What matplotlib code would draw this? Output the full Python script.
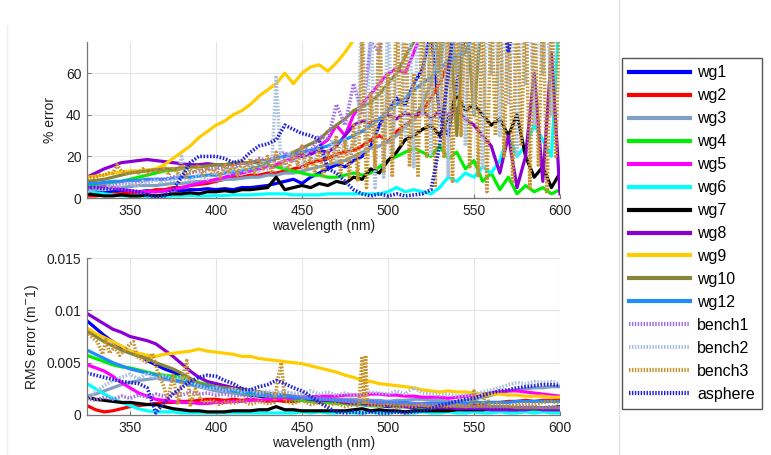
import matplotlib
matplotlib.use("Agg")
import matplotlib.pyplot as plt
from matplotlib.lines import Line2D
import numpy as np

plt.rcParams['font.family'] = ['Liberation Sans', 'DejaVu Sans']

# ---------------------------------------------------------------- data
# common wavelength grid (nm) and a finer one for the noisiest bench series
wavelength = np.arange(325, 601, 5)
wavelength_fine = np.arange(325, 600.1, 2.5)

names = ['wg1', 'wg2', 'wg3', 'wg4', 'wg5', 'wg6', 'wg7', 'wg8', 'wg9',
         'wg10', 'wg12', 'bench1', 'bench2', 'bench3', 'asphere']
colors = ['#0000ff', '#ff0000', '#7f9fc3', '#00ee00', '#ff00ff', '#00ffff',
          '#000000', '#8a00d4', '#ffcc00', '#86853a', '#1e8cff',
          '#a070e8', '#a8c0dc', '#c8922e', '#2222dd']
dotted = [False] * 11 + [True] * 4

# percentage error per instrument (values above 75 run off the top)
pct_wg1 = [3, 3, 2.5, 3, 3.5, 3, 3, 3.5,
           3, 3.5, 4, 3.5, 4, 4, 4.5, 4,
           4.5, 4, 5, 5, 5.5, 6, 7, 8,
           9, 7, 10, 12, 14, 16, 15, 18,
           20, 25, 35, 42, 48, 45, 55, 62,
           80, 40, 30, 55, 80, 90, 95, 95,
           95, 80, 95, 95, 90, 95, 95, 95]
pct_wg2 = [1, 1, 1.5, 2, 2, 2.5, 3, 3,
           4, 4, 5, 5, 6, 6.5, 7, 8,
           9, 10, 10, 11, 11, 12, 12, 13,
           14, 15, 17, 18, 19, 21, 22, 23,
           25, 28, 30, 27, 32, 35, 38, 42,
           48, 55, 65, 80, 95, 95, 95, 95,
           95, 95, 95, 95, 95, 95, 95, 95]
pct_wg3 = [4, 4, 4.5, 5, 5, 5.5, 6, 6,
           6, 6.5, 7, 7, 7.5, 8, 8, 8.5,
           9, 9, 9.5, 10, 10, 11, 11, 12,
           12, 13, 14, 15, 16, 17, 18, 20,
           22, 24, 25, 27, 30, 34, 38, 45,
           55, 70, 95, 60, 95, 95, 80, 95,
           95, 95, 95, 95, 95, 95, 95, 95]
pct_wg4 = [6, 6.5, 7, 7.5, 8, 9, 10, 11,
           12, 13, 13.5, 14, 15, 15, 15.5, 16,
           16, 16.5, 17, 17, 17, 16, 15, 14,
           13, 12, 11, 11, 10, 10, 11, 12,
           11, 12, 15, 18, 20, 22, 24, 22,
           20, 25, 19, 22, 14, 18, 8, 12,
           4, 10, 2, 6, 3, 5, 2, 4]
pct_wg5 = [5, 5, 5.5, 5, 4, 3.5, 3, 3,
           3, 3.5, 4, 5, 6, 7, 8, 9,
           10, 11, 12, 13, 14, 15, 16, 18,
           19, 21, 22, 25, 28, 35, 30, 40,
           45, 50, 55, 60, 62, 60, 70, 80,
           95, 95, 95, 95, 95, 95, 95, 95,
           95, 95, 95, 95, 95, 95, 95, 95]
pct_wg6 = [3, 2.5, 2, 1.5, 1, 1, 1, 0.8,
           0.8, 0.8, 1, 1, 1.2, 1, 1, 1.2,
           1.2, 1.5, 1.5, 1.5, 1.8, 2, 2, 2,
           1.5, 1.5, 1.5, 1.5, 2, 2, 2, 2,
           2, 2, 2, 3, 5, 3, 4, 3,
           2, 5, 10, 8, 12, 10, 15, 12,
           18, 30, 20, 25, 35, 28, 20, 95]
pct_wg7 = [2, 1.5, 1, 1, 1.5, 1, 1, 1.5,
           1, 1.5, 2, 2, 2.5, 2, 3, 3,
           3.5, 3, 4, 4, 4.5, 5, 10, 4,
           5, 6, 5, 7, 6, 8, 7, 10,
           9, 14, 12, 18, 22, 28, 30, 33,
           35, 30, 38, 50, 42, 45, 40, 35,
           38, 30, 40, 20, 10, 15, 5, 12]
pct_wg8 = [10, 12, 14, 15.5, 17, 17.5, 18, 18.5,
           18, 17.5, 17, 16.5, 16, 16, 16.5, 16,
           16, 16.5, 17, 17, 17.5, 18, 19, 20,
           21, 20, 21, 23, 22, 25, 30, 35,
           37, 36, 38, 40, 38, 41, 39, 42,
           38, 42, 40, 43, 38, 35, 30, 25,
           12, 30, 5, 20, 60, 8, 70, 2]
pct_wg9 = [10, 10.5, 11, 12, 12.5, 13, 13, 13.5,
           14, 16, 19, 22, 25, 29, 32, 35,
           37, 40, 42, 45, 49, 52, 55, 60,
           55, 60, 63, 64, 61, 65, 70, 76,
           95, 95, 95, 95, 95, 95, 95, 95,
           95, 95, 95, 95, 95, 95, 95, 95,
           95, 95, 95, 95, 95, 95, 95, 95]
pct_wg10 = [8, 8.5, 9, 10, 11, 12, 12.5, 13,
            13.5, 14, 14, 14.5, 15, 15, 15.5, 16,
            16, 16.5, 17, 17, 18, 18, 19, 20,
            22, 24, 26, 28, 32, 35, 38, 42,
            44, 46, 50, 55, 60, 68, 75, 90,
            95, 60, 95, 30, 95, 40, 95, 95,
            95, 95, 95, 95, 95, 95, 95, 95]
pct_wg12 = [7, 7, 7.5, 8, 8, 8.5, 8.5, 9,
            9, 9, 9.5, 10, 10, 10.5, 11, 11,
            12, 12.5, 13, 14, 15, 17, 19, 20,
            21, 22, 23, 24, 25, 27, 28, 30,
            32, 35, 38, 42, 45, 48, 52, 55,
            58, 62, 66, 68, 70, 80, 95, 95,
            95, 95, 95, 95, 95, 95, 95, 95]
pct_bench1 = [4, 5, 6, 6, 7, 7, 8, 8,
              9, 9, 10, 11, 12, 13, 14, 14,
              15, 14, 17, 16, 19, 18, 20, 22,
              18, 25, 22, 30, 28, 45, 35, 55,
              40, 75, 70, 95, 80, 95, 90, 95,
              95, 95, 95, 95, 95, 95, 95, 95,
              95, 95, 95, 95, 95, 95, 95, 95]
# bench2 and bench3 on the 2.5 nm grid
pct_bench2 = [3, 4, 5, 4, 4, 6, 5, 5, 6, 7,
              7, 6, 6, 8, 7, 8, 9, 7, 8, 9,
              8, 10, 20, 9, 8, 10, 11, 10, 9, 12,
              12, 10, 14, 11, 15, 11, 15, 12, 16, 13,
              12, 18, 14, 16, 58, 20, 14, 22, 20, 16,
              15, 22, 19, 18, 25, 20, 22, 28, 18, 24,
              28, 22, 26, 30, 95, 20, 95, 5, 80, 10,
              95, 20, 60, 95, 30, 95, 15, 95, 40, 95,
              20, 95, 35, 95, 10, 95, 50, 95, 25, 95,
              40, 95, 15, 95, 60, 95, 30, 95, 45, 95,
              20, 95, 55, 95, 35, 95, 60, 95, 40, 95,
              95]
pct_bench3 = [9, 10, 10, 11, 11, 12, 12, 16, 13, 12,
              12, 13, 12, 14, 11, 13, 14, 12, 15, 11,
              15, 12, 16, 10, 14, 12, 16, 11, 15, 12,
              14, 10, 16, 12, 17, 11, 18, 13, 19, 12,
              18, 14, 20, 12, 22, 15, 18, 14, 22, 16,
              25, 14, 20, 12, 24, 10, 22, 16, 30, 12,
              28, 10, 35, 8, 75, 5, 50, 15, 95, 12,
              60, 10, 95, 25, 95, 15, 60, 10, 95, 20,
              95, 5, 95, 20, 95, 8, 95, 30, 95, 15,
              95, 10, 95, 3, 95, 30, 95, 20, 95, 8,
              95, 25, 95, 5, 95, 15, 95, 2, 95, 20,
              95]
pct_asphere = [5, 5, 4.5, 4, 4, 3.5, 3, 1.5,
               0.5, 1, 4, 10, 17, 20, 20, 20,
               19, 17, 18, 22, 25, 26, 28, 35,
               33, 31, 30, 28, 14, 12, 8, 4,
               2, 1, 2, 1, 2, 1, 1.5, 2,
               4, 25, 60, 95, 95, 95, 80, 95,
               95, 70, 95, 95, 95, 95, 95, 95]

# RMS error per instrument, in units of 1e-3 m^-1
rms_wg1 = [9.0, 8.3, 7.6, 7.0, 6.5, 6.1, 5.8, 5.2,
           4.8, 4.4, 4.1, 3.7, 3.2, 2.9, 2.7, 2.5,
           2.3, 2.2, 2.0, 1.9, 1.8, 1.7, 1.6, 1.6,
           1.5, 1.4, 1.4, 1.3, 1.2, 1.2, 1.1, 1.0,
           1.0, 0.9, 0.9, 0.8, 0.8, 0.8, 0.7, 0.7,
           0.7, 0.6, 0.6, 0.6, 0.5, 0.5, 0.5, 0.5,
           0.5, 0.4, 0.4, 0.4, 0.4, 0.4, 0.4, 0.4]
rms_wg2 = [0.9, 0.5, 0.3, 0.4, 0.6, 0.8, 0.9, 1.0,
           1.1, 1.2, 1.2, 1.3, 1.3, 1.4, 1.5, 1.5,
           1.4, 1.5, 1.4, 1.5, 1.4, 1.3, 1.4, 1.3,
           1.3, 1.4, 1.3, 1.2, 1.3, 1.2, 1.2, 1.1,
           1.2, 1.1, 1.1, 1.0, 1.1, 1.0, 1.0, 1.0,
           0.9, 1.0, 0.9, 1.0, 1.0, 1.1, 1.1, 1.2,
           1.2, 1.3, 1.3, 1.4, 1.3, 1.4, 1.4, 1.5]
rms_wg3 = [1.8, 2.0, 2.3, 2.6, 2.9, 3.1, 3.3, 3.4,
           3.5, 3.4, 3.3, 3.1, 2.9, 2.7, 2.5, 2.3,
           2.2, 2.1, 2.0, 2.0, 1.9, 1.9, 1.8, 1.8,
           1.7, 1.7, 1.6, 1.6, 1.6, 1.5, 1.5, 1.5,
           1.4, 1.4, 1.4, 1.3, 1.4, 1.4, 1.5, 1.5,
           1.4, 1.4, 1.3, 1.3, 1.4, 1.5, 1.7, 1.9,
           2.1, 2.3, 2.4, 2.5, 2.6, 2.6, 2.7, 2.7]
rms_wg4 = [5.7, 5.4, 5.1, 4.8, 4.6, 4.5, 4.3, 4.1,
           3.9, 3.8, 3.7, 3.6, 3.4, 3.1, 2.9, 2.7,
           2.5, 2.3, 2.1, 2.0, 1.9, 1.8, 1.7, 1.6,
           1.5, 1.4, 1.3, 1.3, 1.2, 1.1, 1.1, 1.0,
           1.0, 0.9, 0.9, 0.9, 0.8, 0.8, 0.8, 0.7,
           0.7, 0.7, 0.6, 0.6, 0.6, 0.6, 0.5, 0.5,
           0.5, 0.5, 0.5, 0.5, 0.4, 0.4, 0.4, 0.4]
rms_wg5 = [4.8, 4.5, 4.2, 3.7, 3.1, 2.6, 2.1, 1.8,
           1.5, 1.4, 1.3, 1.2, 1.2, 1.1, 1.1, 1.2,
           1.2, 1.3, 1.3, 1.4, 1.4, 1.5, 1.5, 1.6,
           1.6, 1.7, 1.7, 1.8, 1.8, 1.8, 1.9, 1.9,
           1.9, 2.0, 2.0, 1.9, 1.9, 1.8, 1.8, 1.7,
           1.7, 1.7, 1.6, 1.7, 1.8, 1.9, 2.0, 2.1,
           2.2, 2.3, 2.3, 2.2, 2.1, 2.0, 1.9, 1.8]
rms_wg6 = [3.0, 2.5, 2.0, 1.6, 1.2, 0.9, 0.6, 0.4,
           0.3, 0.3, 0.3, 0.2, 0.2, 0.2, 0.2, 0.2,
           0.2, 0.2, 0.2, 0.2, 0.2, 0.2, 0.2, 0.2,
           0.2, 0.3, 0.2, 0.3, 0.2, 0.2, 0.3, 0.2,
           0.2, 0.3, 0.2, 0.2, 0.3, 0.2, 0.2, 0.3,
           0.2, 0.2, 0.3, 0.2, 0.2, 0.3, 0.2, 0.2,
           0.3, 0.2, 0.2, 0.3, 0.2, 0.3, 0.2, 0.2]
rms_wg7 = [1.7, 1.5, 1.4, 1.3, 1.2, 1.2, 1.1, 1.0,
           1.0, 0.8, 0.6, 0.5, 0.4, 0.4, 0.3, 0.3,
           0.3, 0.4, 0.4, 0.4, 0.5, 0.5, 0.8, 0.5,
           0.5, 0.4, 0.4, 0.4, 0.4, 0.4, 0.4, 0.5,
           0.6, 0.4, 0.5, 0.4, 0.4, 0.3, 0.4, 0.4,
           0.4, 0.4, 0.4, 0.5, 0.5, 0.5, 0.5, 0.6,
           0.6, 0.6, 0.7, 0.7, 0.7, 0.7, 0.7, 0.8]
rms_wg8 = [9.7, 9.2, 8.7, 8.2, 7.9, 7.5, 7.3, 7.1,
           6.8, 6.2, 5.6, 4.9, 4.2, 3.6, 3.2, 3.0,
           2.8, 2.6, 2.5, 2.3, 2.2, 2.0, 1.9, 1.8,
           1.7, 1.6, 1.5, 1.4, 1.4, 1.3, 1.2, 1.1,
           1.1, 1.0, 1.0, 0.9, 0.9, 0.8, 0.8, 0.8,
           0.7, 0.7, 0.7, 0.6, 0.6, 0.6, 0.6, 0.5,
           0.5, 0.5, 0.5, 0.5, 0.6, 0.5, 0.5, 0.5]
rms_wg9 = [8.3, 7.8, 7.4, 7.0, 6.6, 6.1, 5.9, 5.7,
           5.6, 5.8, 5.9, 6.0, 6.1, 6.3, 6.1, 6.0,
           5.9, 5.8, 5.6, 5.6, 5.4, 5.3, 5.2, 5.1,
           5.0, 4.9, 4.7, 4.5, 4.3, 4.1, 3.8, 3.6,
           3.3, 3.2, 3.0, 2.9, 2.8, 2.7, 2.6, 2.4,
           2.3, 2.2, 2.3, 2.2, 2.2, 2.1, 2.0, 2.0,
           2.0, 1.9, 1.9, 1.8, 1.8, 1.8, 1.7, 1.7]
rms_wg10 = [8.0, 7.5, 7.0, 6.6, 6.2, 5.9, 5.6, 5.4,
            5.0, 4.7, 4.4, 4.0, 3.5, 3.0, 2.8, 2.7,
            2.6, 2.5, 2.4, 2.3, 2.2, 2.1, 2.0, 1.9,
            1.8, 1.7, 1.6, 1.5, 1.5, 1.4, 1.3, 1.3,
            1.2, 1.2, 1.1, 1.1, 1.0, 1.0, 1.0, 0.9,
            0.9, 0.9, 0.9, 0.8, 0.8, 0.8, 0.8, 0.8,
            0.8, 0.8, 0.7, 0.7, 0.7, 0.7, 0.7, 0.7]
rms_wg12 = [6.2, 5.8, 5.4, 5.0, 4.7, 4.4, 4.2, 4.0,
            3.8, 3.6, 3.4, 3.2, 3.0, 2.8, 2.7, 2.6,
            2.4, 2.3, 2.2, 2.1, 2.0, 1.9, 1.8, 1.8,
            1.7, 1.6, 1.6, 1.5, 1.5, 1.4, 1.4, 1.3,
            1.3, 1.3, 1.2, 1.2, 1.2, 1.2, 1.1, 1.1,
            1.1, 1.1, 1.1, 1.1, 1.1, 1.2, 1.2, 1.2,
            1.2, 1.2, 1.3, 1.3, 1.3, 1.3, 1.3, 1.3]
rms_bench1 = [1.6, 1.4, 1.7, 1.5, 1.8, 1.6, 1.9, 1.7,
              2.0, 1.8, 2.1, 1.9, 2.2, 2.0, 2.1, 1.9,
              2.0, 1.8, 1.9, 1.7, 2.0, 1.8, 2.1, 2.2,
              2.0, 1.8, 1.7, 1.6, 1.5, 1.5, 1.4, 1.3,
              1.4, 1.2, 1.3, 1.1, 1.2, 1.0, 1.1, 1.0,
              1.0, 0.9, 1.0, 0.9, 0.9, 0.8, 0.9, 0.8,
              0.8, 0.8, 0.9, 0.8, 0.8, 0.7, 0.8, 0.7]
rms_bench2 = [1.5, 2.2, 2.8, 3.3, 3.6, 3.9, 3.4, 4.0,
              3.5, 3.8, 3.4, 3.7, 3.2, 2.8, 2.5, 2.6,
              2.3, 2.5, 2.2, 2.4, 2.1, 2.3, 2.0, 2.2,
              2.1, 2.0, 2.3, 2.0, 2.2, 1.9, 2.1, 1.9,
              2.0, 2.2, 2.1, 2.0, 2.3, 2.0, 2.6, 2.1,
              2.0, 1.9, 2.0, 1.8, 1.9, 2.0, 2.2, 2.4,
              2.6, 2.9, 3.1, 3.0, 3.2, 3.1, 3.2, 3.0]
rms_asphere = [4.0, 3.8, 3.6, 3.4, 3.2, 3.1, 3.0, 2.6,
               0.2, 1.2, 2.0, 2.6, 3.2, 3.6, 3.8, 3.7,
               3.3, 3.0, 2.5, 2.4, 2.7, 2.9, 3.3, 3.0,
               2.6, 2.3, 1.8, 1.2, 0.7, 0.3, 0.2, 0.3,
               0.2, 0.3, 0.2, 0.2, 0.3, 0.2, 0.3, 0.4,
               0.6, 0.9, 1.1, 1.3, 1.5, 1.6, 1.9, 2.1,
               2.3, 2.4, 2.6, 2.7, 2.8, 2.9, 2.9, 2.8]
# bench3 is sampled more finely to keep its narrow spikes
bench3_rms_points = [
    (325, 8.0), (328, 7.4), (331, 7.0), (334, 5.8), (336, 7.2), (338, 5.9),
    (341, 6.5), (344, 5.7), (347, 6.2), (350, 6.8), (352, 7.0), (354, 5.6),
    (357, 5.3), (360, 5.0), (363, 5.9), (366, 4.2), (369, 3.0), (372, 1.5),
    (375, 3.8), (378, 1.0), (381, 4.0), (383, 5.2), (385, 0.8), (388, 2.5),
    (391, 1.5), (394, 1.2), (398, 1.4), (402, 1.0), (406, 1.3), (410, 1.1),
    (415, 1.4), (420, 1.0), (425, 1.3), (430, 1.1), (434, 1.2), (436, 3.5),
    (438, 5.0), (440, 1.3), (445, 1.1), (450, 1.4), (455, 1.0), (460, 1.2),
    (465, 0.9), (470, 1.1), (475, 0.8), (480, 1.0), (483, 0.9), (485, 5.6),
    (486, 1.0), (487, 5.7), (488, 1.2), (489, 0.9), (491, 1.0), (495, 0.8),
    (500, 1.0), (505, 0.7), (510, 0.9), (515, 0.8), (520, 1.0), (525, 0.7),
    (530, 0.9), (535, 0.8), (540, 1.0), (545, 0.8), (548, 0.9), (550, 2.3),
    (552, 0.9), (555, 1.0), (557, 2.2), (559, 0.9), (563, 1.1), (570, 0.9),
    (575, 1.0), (580, 1.1), (585, 1.0), (590, 1.2), (595, 1.3), (600, 1.1)]

pct_series = [(wavelength, pct_wg1), (wavelength, pct_wg2), (wavelength, pct_wg3),
              (wavelength, pct_wg4), (wavelength, pct_wg5), (wavelength, pct_wg6),
              (wavelength, pct_wg7), (wavelength, pct_wg8), (wavelength, pct_wg9),
              (wavelength, pct_wg10), (wavelength, pct_wg12),
              (wavelength, pct_bench1), (wavelength_fine, pct_bench2),
              (wavelength_fine, pct_bench3), (wavelength, pct_asphere)]
bench3_wl = [p[0] for p in bench3_rms_points]
bench3_val = [p[1] for p in bench3_rms_points]
rms_series = [(wavelength, rms_wg1), (wavelength, rms_wg2), (wavelength, rms_wg3),
              (wavelength, rms_wg4), (wavelength, rms_wg5), (wavelength, rms_wg6),
              (wavelength, rms_wg7), (wavelength, rms_wg8), (wavelength, rms_wg9),
              (wavelength, rms_wg10), (wavelength, rms_wg12),
              (wavelength, rms_bench1), (wavelength, rms_bench2),
              (bench3_wl, bench3_val), (wavelength, rms_asphere)]

x_ticks = [350, 400, 450, 500, 550, 600]

# ---------------------------------------------------------------- figure
fig = plt.figure(figsize=(7.71, 4.55), dpi=100)
W, H = 771, 455
ax1 = fig.add_axes([87 / W, 1 - 198 / H, (560 - 87) / W, (198 - 42) / H])
ax2 = fig.add_axes([87 / W, 1 - 415 / H, (560 - 87) / W, (415 - 258) / H])

DOT = (0, (0.45, 0.45))


def style(ls_dotted):
    if ls_dotted:
        return dict(lw=2.6, linestyle=DOT, solid_capstyle='butt')
    return dict(lw=2.3, linestyle='-', solid_joinstyle='round')


for c, d, (x, y) in zip(colors, dotted, pct_series):
    ax1.plot(x, y, color=c, **style(d))

for c, d, (x, y) in zip(colors, dotted, rms_series):
    ax2.plot(x, np.asarray(y) * 1e-3, color=c, **style(d))

for ax in (ax1, ax2):
    ax.set_xlim(325, 600)
    ax.set_xticks(x_ticks)
    ax.grid(True, color='#e4e4e4', lw=0.8)
    ax.set_axisbelow(True)
    for s in ('top', 'right'):
        ax.spines[s].set_visible(False)
    for s in ('left', 'bottom'):
        ax.spines[s].set_color('#777777')
        ax.spines[s].set_linewidth(0.9)
    ax.tick_params(direction='in', length=3, width=0.8, color='#777777',
                   labelsize=10, labelcolor='#222222', pad=4)
    ax.set_xlabel('wavelength (nm)', fontsize=10, color='#222222', labelpad=1)

ax1.set_ylim(0, 75)
ax1.set_yticks([0, 20, 40, 60])
ax1.set_ylabel('% error', fontsize=10, color='#222222', labelpad=6)

ax2.set_ylim(0, 0.015)
ax2.set_yticks([0, 0.005, 0.01, 0.015])
ax2.set_yticklabels(['0', '0.005', '0.01', '0.015'])
ax2.set_ylabel('RMS error (m$^{-}$1)', fontsize=10, color='#222222', labelpad=4)

# legend handles drawn thicker than the plotted lines
leg_handles = []
for name, c, d in zip(names, colors, dotted):
    if d:
        leg_handles.append(Line2D([], [], color=c, lw=3.0, linestyle=(0, (0.35, 0.35))))
    else:
        leg_handles.append(Line2D([], [], color=c, lw=3.0))
leg = fig.legend(leg_handles, names, loc='upper left',
                 bbox_to_anchor=(622 / W, 1 - 58 / H), borderaxespad=0,
                 fontsize=11.5, handlelength=3.8, handletextpad=0.45,
                 labelspacing=0.5, borderpad=0.45, fancybox=False,
                 frameon=True, edgecolor='#555555', framealpha=1)
leg.get_frame().set_linewidth(1.0)

# light panel separators
fig.add_artist(Line2D([619 / W, 619 / W], [0, 1], color='#e2e2e2', lw=1.0))
fig.add_artist(Line2D([7 / W, 7 / W], [0, 1 - 25 / H], color='#eeeeee', lw=1.0))

fig.savefig('out.png', dpi=100)
